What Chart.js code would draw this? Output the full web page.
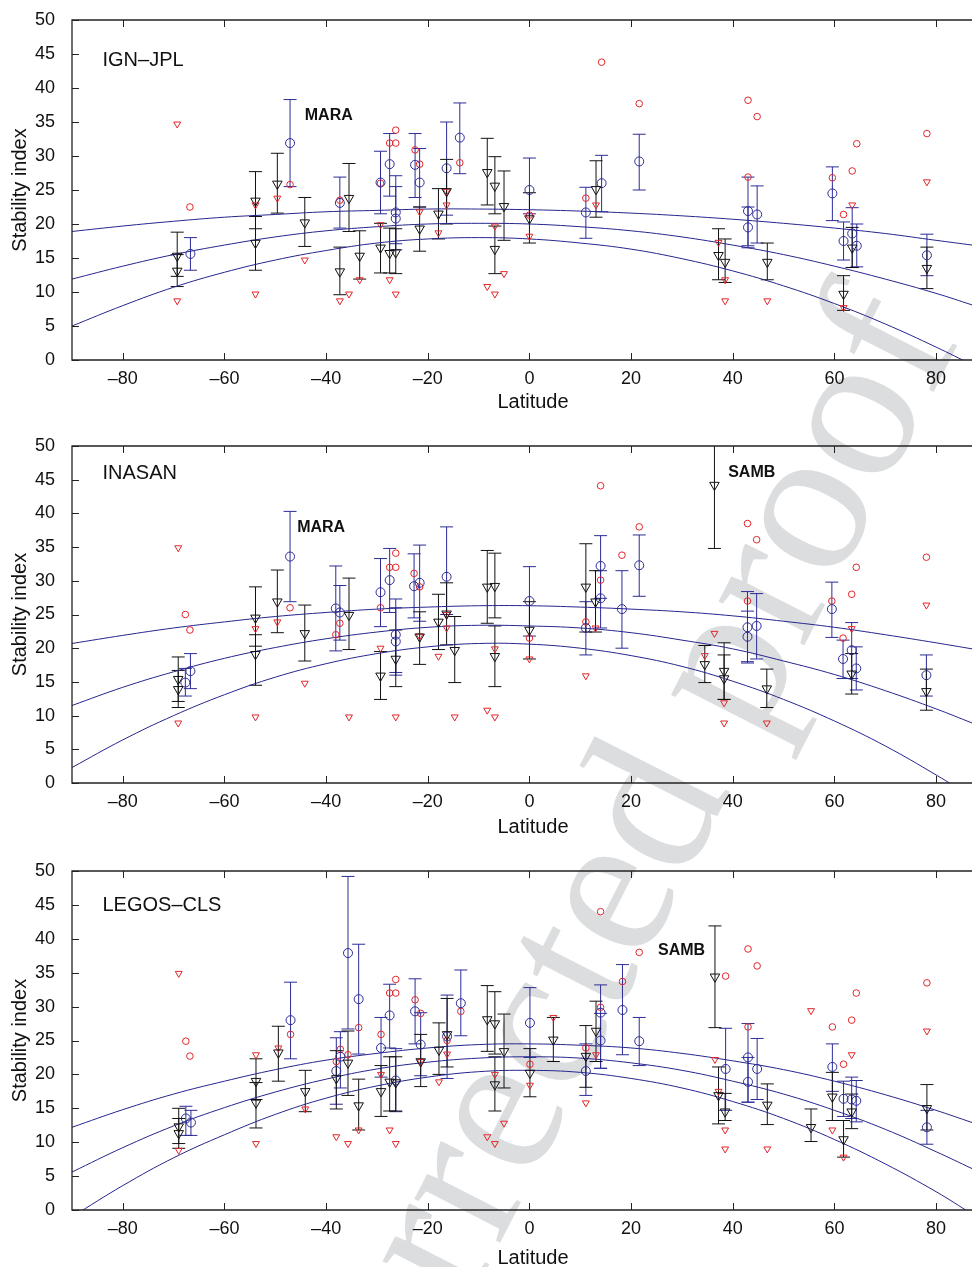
<!DOCTYPE html>
<html>
<head>
<meta charset="utf-8">
<script src="https://cdn.jsdelivr.net/npm/chart.js@4.4.0/dist/chart.umd.min.js"></script>
<style>
body { margin: 0; background: #fff; width: 972px; height: 1267px; overflow: hidden; position: relative; }
.panel { position: absolute; left: 0; width: 994px; height: 425px; z-index: 1; }
#wm { position: absolute; left: 595px; top: 900px; transform: translate(-50%, -50%) rotate(-63deg);
      font: 210px "Liberation Serif", "DejaVu Serif", serif; color: #dcdddf; white-space: nowrap; line-height: 1; z-index: 0; }
</style>
</head>
<body>
<div id="wm">Corrected proof</div>
<div class="panel" style="top:0px"><canvas id="c1"></canvas></div>
<div class="panel" style="top:425px"><canvas id="c2"></canvas></div>
<div class="panel" style="top:850px"><canvas id="c3"></canvas></div>
<script>
// axes (the axes run a little past the cropped right edge of the figure)
const xTicks = [-80, -60, -40, -20, 0, 20, 40, 60, 80];
const yTicks = [0, 5, 10, 15, 20, 25, 30, 35, 40, 45, 50];

const curveLat = [-90, -80, -70, -60, -50, -40, -30, -20, -10, 0, 10, 20, 30, 40, 50, 60, 70, 80, 87.1];

// ---- IGN-JPL ----
const ignFitHi = [18.9, 19.7, 20.4, 21.0, 21.4, 21.8, 22.0, 22.2, 22.2, 22.1, 21.9, 21.6, 21.2, 20.7, 20.1, 19.4, 18.6, 17.6, 16.9];
const ignFitMid = [11.9, 13.8, 15.5, 16.9, 18.1, 19.0, 19.6, 20.0, 20.1, 20.0, 19.6, 19.0, 18.1, 16.9, 15.5, 13.8, 11.9, 9.8, 8.1];
const ignFitLo = [5.0, 8.0, 10.7, 12.9, 14.7, 16.1, 17.2, 17.8, 18.0, 17.8, 17.2, 16.3, 14.9, 13.1, 10.9, 8.3, 5.3, 1.9, -0.7];
const ignRedCircles = [[-66.8,22.5],[-47.1,25.8],[-37.3,23.5],[-29.3,26.0],[-27.5,31.9],[-26.3,33.8],[-26.3,31.9],[-22.5,30.9],[-21.6,28.8],[-13.7,29.0],[0,21.3],[11.1,23.8],[14.2,43.8],[21.6,37.7],[43.0,26.9],[43.0,38.2],[44.8,35.8],[59.6,26.8],[61.8,21.4],[63.5,27.8],[64.4,31.8],[78.2,33.3]];
const ignRedTri = [[-69.3,34.7],[-69.3,8.7],[-53.9,22.8],[-53.9,9.7],[-49.6,23.8],[-44.2,14.7],[-37.3,8.7],[-35.5,9.7],[-33.4,11.8],[-29.3,19.9],[-27.5,11.8],[-26.3,9.7],[-21.6,21.8],[-17.9,18.7],[-16.3,24.8],[-16.3,22.8],[-8.3,10.8],[-6.8,19.7],[-6.8,9.7],[-5.0,12.7],[0,18.2],[13.1,22.8],[37.2,17.3],[38.5,11.8],[38.5,8.7],[46.8,8.7],[61.8,7.7],[63.5,22.8],[78.2,26.2]];
// [lat, value, low, high]
const ignBlue = [[-66.7,15.6,13.2,18.0],[-47.1,31.9,25.5,38.3],[-37.3,23.1,19.4,26.9],[-29.3,26.1,21.5,30.7],[-27.5,28.8,24.1,33.3],[-26.3,21.7,17.1,27.1],[-26.3,20.8,16.2,25.5],[-22.5,28.7,23.9,33.3],[-21.6,26.1,22.5,31.1],[-16.3,28.2,21.3,35.0],[-13.7,32.7,27.4,37.8],[0,25.0,21.5,29.7],[11.1,21.7,17.9,25.4],[14.2,26.0,21.8,30.1],[21.6,29.2,25.0,33.2],[43.0,21.9,16.5,26.9],[43.0,19.5,16.8,22.5],[44.8,21.4,17.2,25.6],[59.6,24.5,20.5,28.4],[61.8,17.5,14.7,20.3],[63.5,18.6,13.6,22.4],[64.4,16.8,13.7,20.0],[78.2,15.4,12.4,18.5]];
const ignBlack = [[-69.3,15.3,12.3,18.8],[-69.3,13.1,10.8,15.5],[-53.9,23.4,19.3,27.7],[-53.9,17.2,13.2,21.1],[-49.6,25.9,21.6,30.4],[-44.2,20.2,16.7,23.9],[-37.3,13.0,9.6,16.6],[-35.5,23.8,18.9,28.9],[-33.4,15.3,11.9,19.0],[-29.3,16.5,12.8,20.1],[-27.5,15.7,12.8,19.4],[-26.3,15.8,12.7,19.3],[-21.6,19.3,16.0,22.5],[-17.9,21.5,17.8,25.2],[-16.3,24.8,20.0,29.5],[-8.3,27.6,22.8,32.6],[-6.8,25.6,21.5,29.9],[-6.8,16.3,12.7,19.7],[-5.0,22.6,17.6,27.8],[0,20.8,17.2,24.6],[13.1,25.1,21.0,29.3],[37.2,15.4,11.8,19.3],[38.5,14.4,11.4,17.8],[46.8,14.4,11.8,17.2],[61.8,9.7,7.3,12.4],[63.5,16.5,13.6,19.5],[78.2,13.5,10.5,16.6]];
const ignText = [['IGN–JPL', -84.0, 44.1, false], ['MARA', -44.2, 36.0, true]];

// ---- INASAN ----
const inaFitHi = [20.7, 21.9, 23.0, 23.9, 24.7, 25.3, 25.8, 26.1, 26.3, 26.3, 26.1, 25.8, 25.4, 24.8, 24.0, 23.1, 22.0, 20.8, 19.9];
const inaFitMid = [11.5, 14.2, 16.5, 18.5, 20.1, 21.4, 22.4, 23.1, 23.4, 23.3, 23.0, 22.3, 21.2, 19.9, 18.1, 16.1, 13.7, 11.0, 8.9];
const inaFitLo = [2.3, 6.4, 10.0, 13.1, 15.7, 17.7, 19.2, 20.2, 20.7, 20.6, 20.0, 18.9, 17.3, 15.1, 12.4, 9.2, 5.5, 1.2, -2.1];
const inaRedCircles = [[-67.7,25.0],[-66.8,22.7],[-47.1,26.0],[-38.1,22.0],[-37.3,23.7],[-29.3,26.0],[-27.5,32.0],[-26.3,34.1],[-26.3,32.0],[-22.7,31.1],[-21.6,29.1],[0,21.5],[11.1,23.9],[14.0,44.1],[14.0,30.1],[18.2,33.8],[21.6,38.0],[42.9,27.0],[42.9,38.5],[44.7,36.1],[59.5,27.0],[61.7,21.5],[63.4,28.0],[64.3,32.0],[78.1,33.5]];
const inaRedTri = [[-69.1,34.9],[-69.1,8.9],[-53.9,22.9],[-53.9,9.8],[-49.6,23.9],[-44.2,14.8],[-35.5,9.8],[-29.3,20.0],[-26.3,9.8],[-21.6,21.8],[-17.9,18.8],[-16.3,23.0],[-16.3,25.0],[-14.7,9.8],[-8.3,10.8],[-6.8,19.9],[-6.8,9.8],[0,18.4],[11.1,15.9],[13.0,23.0],[34.5,18.9],[36.4,22.2],[38.3,11.9],[38.3,8.9],[46.7,8.9],[63.4,22.9],[78.1,26.4]];
const inaBlue = [[-67.7,14.9,12.9,17.0],[-66.7,16.6,14.0,19.2],[-47.1,33.6,26.9,40.3],[-38.1,25.9,19.6,32.2],[-37.3,25.3,21.2,29.3],[-29.3,28.3,23.2,33.3],[-27.5,30.1,25.3,34.8],[-26.3,22.0,16.4,27.3],[-26.3,21.0,16.0,26.0],[-22.7,29.2,24.5,34.0],[-21.6,29.7,24.0,35.3],[-16.3,30.6,25.0,38.0],[0,27.0,21.8,32.1],[11.1,23.0,19.0,26.9],[14.0,32.2,27.4,36.7],[14.0,27.4,23.0,31.5],[18.2,25.8,20.0,31.5],[21.6,32.3,27.7,36.8],[42.9,23.1,17.8,28.4],[42.9,21.7,18.0,25.5],[44.7,23.3,18.4,28.1],[59.5,25.8,21.6,29.8],[61.7,18.4,15.5,21.2],[63.4,19.7,15.5,23.8],[64.3,17.0,13.8,20.2],[78.1,16.0,12.9,19.0]];
const inaBlack = [[-69.1,15.4,12.1,18.7],[-69.1,13.9,11.2,16.7],[-53.9,24.5,20.3,29.1],[-53.9,19.1,14.5,22.0],[-49.6,26.9,22.3,31.6],[-44.2,22.2,18.1,26.4],[-35.5,24.9,19.8,30.4],[-29.3,15.9,12.4,19.5],[-26.3,18.4,14.3,22.7],[-21.6,21.7,17.6,25.4],[-17.9,23.9,19.8,28.0],[-16.3,25.1,20.5,29.7],[-14.7,19.7,14.9,24.7],[-8.3,29.1,23.7,34.5],[-6.8,29.2,24.5,34.1],[-6.8,18.8,14.3,23.3],[0,22.7,18.4,26.9],[11.1,29.1,22.4,35.5],[13.0,26.9,22.4,31.5],[34.5,17.6,14.9,20.4],[36.4,44.2,34.8,53.0],[38.3,16.6,12.4,20.8],[38.3,15.5,12.4,19.0],[46.7,14.0,11.2,16.9],[63.4,16.2,13.2,19.2],[78.1,13.6,10.8,16.9]];
const inaText = [['INASAN', -84.0, 45.9, false], ['MARA', -45.7, 37.9, true], ['SAMB', 39.1, 46.0, true]];

// ---- LEGOS-CLS ----
const legFitHi = [12.2, 14.8, 17.1, 19.0, 20.7, 22.1, 23.1, 23.9, 24.4, 24.5, 24.3, 23.9, 23.1, 22.0, 20.7, 19.0, 17.0, 14.7, 12.9];
const legFitMid = [5.6, 9.2, 12.4, 15.1, 17.4, 19.3, 20.8, 21.8, 22.4, 22.6, 22.4, 21.7, 20.6, 19.0, 17.1, 14.7, 11.9, 8.6, 6.1];
const legFitLo = [-1.0, 3.6, 7.7, 11.1, 14.1, 16.5, 18.3, 19.6, 20.4, 20.6, 20.3, 19.4, 18.0, 16.0, 13.5, 10.4, 6.8, 2.7, -0.6];
const legRedCircles = [[-67.6,24.9],[-66.8,22.7],[-47.0,25.9],[-38.0,21.9],[-37.2,23.7],[-35.7,22.9],[-33.6,26.9],[-29.2,25.9],[-27.5,32.0],[-26.3,34.0],[-26.3,32.0],[-22.5,31.0],[-21.4,29.0],[-16.2,25.0],[-13.5,29.3],[0.1,21.5],[11.1,23.9],[14.0,44.0],[14.0,29.9],[18.3,33.7],[21.6,38.0],[38.6,34.5],[43.0,27.0],[43.0,38.5],[44.8,36.0],[59.6,27.0],[61.8,21.5],[63.4,28.0],[64.3,32.0],[78.2,33.5]];
const legRedTri = [[-69.0,34.9],[-69.0,8.8],[-53.8,22.9],[-53.8,9.8],[-49.4,23.9],[-44.1,14.9],[-38.0,10.8],[-35.7,9.8],[-33.6,11.8],[-29.2,20.0],[-27.5,11.8],[-26.3,9.8],[-21.4,21.9],[-17.8,18.9],[-16.2,23.0],[-8.3,10.8],[-6.8,20.0],[-6.8,9.8],[-5.0,12.8],[0.1,18.4],[4.7,28.4],[11.1,15.8],[13.1,22.9],[36.5,22.2],[37.2,17.5],[38.5,11.8],[38.5,9.0],[46.8,9.0],[55.4,29.4],[59.6,11.8],[61.8,7.8],[63.4,22.9],[78.2,26.4]];
const legBlue = [[-67.6,13.5,11.0,15.3],[-66.6,12.9,11.0,14.7],[-47.0,28.0,22.3,33.6],[-38.0,20.5,15.6,25.4],[-37.2,22.6,18.0,26.3],[-35.7,37.9,26.7,49.2],[-33.6,31.1,23.0,39.2],[-29.2,23.9,19.6,28.4],[-27.5,28.7,23.9,33.3],[-26.3,19.1,14.5,23.8],[-22.5,29.3,24.5,34.1],[-21.4,24.4,19.8,29.1],[-16.2,25.6,19.4,31.7],[-13.5,30.5,25.7,35.4],[0.1,27.6,22.5,32.8],[11.1,20.5,16.9,24.5],[14.0,29.1,20.9,33.2],[14.0,25.0,20.9,29.0],[18.3,29.5,22.9,36.2],[21.6,24.9,21.3,28.4],[38.6,20.8,14.7,26.8],[43.0,22.5,15.9,27.5],[43.0,18.9,15.9,22.5],[44.8,20.8,16.3,25.3],[59.6,21.1,17.5,24.5],[61.8,16.4,13.8,19.0],[63.4,16.3,13.5,19.6],[64.3,16.1,13.0,19.1],[78.2,12.2,9.7,14.7]];
const legBlack = [[-69.0,12.3,9.8,15.0],[-69.0,11.3,9.1,13.5],[-53.8,19.0,16.3,22.3],[-53.8,15.8,12.1,18.8],[-49.4,23.2,19.0,27.1],[-44.1,17.5,14.5,20.6],[-38.0,19.4,14.9,23.5],[-35.7,21.7,16.9,26.4],[-33.6,15.4,11.8,19.3],[-29.2,17.5,13.8,21.3],[-27.5,18.9,14.6,22.6],[-26.3,18.8,14.6,22.6],[-21.4,21.9,18.2,25.9],[-17.8,23.6,20.0,27.6],[-16.2,25.9,21.1,31.2],[-8.3,28.1,23.4,33.1],[-6.8,27.5,23.0,32.2],[-6.8,18.5,14.6,22.6],[-5.0,23.4,18.0,28.9],[0.1,20.2,16.7,23.8],[4.7,25.1,21.9,28.4],[11.1,22.7,18.1,27.2],[13.1,26.4,21.9,30.8],[36.5,34.4,26.9,41.9],[37.2,16.9,12.7,21.1],[38.5,14.5,13.2,17.2],[46.8,15.5,12.6,18.6],[55.4,12.2,10.1,14.9],[59.6,16.7,13.2,20.3],[61.8,10.4,7.8,13.2],[63.4,14.5,12.0,17.1],[78.2,15.0,11.8,18.5]];
const legText = [['LEGOS–CLS', -84.0, 44.9, false], ['SAMB', 25.3, 38.3, true]];

const RED = '#e2262a', BLUE = '#2c2c98', NAVY = '#25258c', BLACK = '#111';
Chart.defaults.font.family = '"Liberation Sans", Arial, Helvetica, sans-serif';
Chart.defaults.color = '#111';

// error bars drawn under the markers
const errorBars = {
    id: 'errorBars',
    beforeDatasetsDraw(chart) {
        const { ctx, chartArea: a, scales } = chart;
        ctx.save();
        ctx.beginPath();
        ctx.rect(a.left, a.top, a.right - a.left, a.bottom - a.top);
        ctx.clip();
        chart.data.datasets.forEach((ds) => {
            if (!ds.errColor) return;
            ctx.strokeStyle = ds.errColor;
            ctx.lineWidth = 1;
            ds.data.forEach((p) => {
                const px = scales.x.getPixelForValue(p.x);
                const lo = scales.y.getPixelForValue(p.lo);
                const hi = scales.y.getPixelForValue(p.hi);
                ctx.beginPath();
                ctx.moveTo(px, lo); ctx.lineTo(px, hi);
                ctx.moveTo(px - 6.5, lo); ctx.lineTo(px + 6.5, lo);
                ctx.moveTo(px - 6.5, hi); ctx.lineTo(px + 6.5, hi);
                ctx.stroke();
            });
        });
        ctx.restore();
    },
};

// box with inward ticks, matlab style
const frame = {
    id: 'frame',
    afterDatasetsDraw(chart) {
        const { ctx, chartArea: a, scales } = chart;
        ctx.save();
        ctx.strokeStyle = '#222';
        ctx.lineWidth = 1.3;
        ctx.beginPath();
        ctx.moveTo(a.right, a.top); ctx.lineTo(a.left, a.top);
        ctx.lineTo(a.left, a.bottom); ctx.lineTo(a.right, a.bottom);
        ctx.stroke();
        ctx.lineWidth = 1;
        ctx.beginPath();
        xTicks.forEach((v) => {
            const px = Math.round(scales.x.getPixelForValue(v)) + 0.5;
            ctx.moveTo(px, a.bottom); ctx.lineTo(px, a.bottom - 7);
            ctx.moveTo(px, a.top); ctx.lineTo(px, a.top + 7);
        });
        yTicks.forEach((v) => {
            const py = Math.round(scales.y.getPixelForValue(v)) + 0.5;
            ctx.moveTo(a.left, py); ctx.lineTo(a.left + 7, py);
        });
        ctx.stroke();
        ctx.restore();
    },
};

// panel name and station labels
const panelText = {
    id: 'panelText',
    afterDraw(chart, args, opts) {
        const { ctx, scales } = chart;
        ctx.save();
        ctx.fillStyle = '#111';
        ctx.textBaseline = 'middle';
        (opts.items || []).forEach((t) => {
            ctx.font = (t[3] ? 'bold 16px ' : '20px ') + Chart.defaults.font.family;
            ctx.fillText(t[0], scales.x.getPixelForValue(t[1]), scales.y.getPixelForValue(t[2]));
        });
        ctx.restore();
    },
};

function pts(list) {
    return list.map((p) => ({ x: p[0], y: p[1], lo: p[2], hi: p[3] }));
}
function curve(vals) {
    return vals.map((v, i) => ({ x: curveLat[i], y: v }));
}
function fitLine(vals) {
    return { type: 'line', data: curve(vals), borderColor: NAVY, borderWidth: 1, pointRadius: 0, tension: 0.4, fill: false, order: 5 };
}
function noPad(s) {
    s.paddingLeft = 0; s.paddingRight = 0; s.paddingTop = 0; s.paddingBottom = 0;
}

function drawPanel(id, p) {
    new Chart(document.getElementById(id), {
        type: 'scatter',
        data: {
            datasets: [
                fitLine(p.fitHi),
                fitLine(p.fitMid),
                fitLine(p.fitLo),
                { data: pts(p.redCircles), pointStyle: 'circle', pointRadius: 3.3, borderColor: RED, backgroundColor: 'rgba(0,0,0,0)', borderWidth: 1, order: 4 },
                { data: pts(p.redTri), pointStyle: 'triangle', rotation: 180, pointRadius: 4, borderColor: RED, backgroundColor: 'rgba(0,0,0,0)', borderWidth: 1, order: 3 },
                { data: pts(p.blue), pointStyle: 'circle', pointRadius: 4.5, borderColor: BLUE, backgroundColor: 'rgba(0,0,0,0)', borderWidth: 1, errColor: BLUE, order: 2 },
                { data: pts(p.black), pointStyle: 'triangle', rotation: 180, pointRadius: 5.5, borderColor: BLACK, backgroundColor: 'rgba(0,0,0,0)', borderWidth: 1, errColor: BLACK, order: 1 },
            ],
        },
        options: {
            responsive: true,
            maintainAspectRatio: false,
            animation: false,
            events: [],
            layout: { autoPadding: false, padding: { top: p.top, right: 0, bottom: 0, left: 0 } },
            plugins: { legend: { display: false }, tooltip: { enabled: false }, panelText: { items: p.text } },
            scales: {
                x: {
                    type: 'linear', min: -90, max: 91.4,
                    grid: { display: false }, border: { display: false },
                    afterBuildTicks: (s) => { s.ticks = xTicks.map((v) => ({ value: v })); },
                    afterFit: (s) => { s.height = p.xH; noPad(s); },
                    ticks: { font: { size: 18 }, color: '#111', padding: 0, maxRotation: 0, autoSkip: false,
                        callback: (v) => (v < 0 ? '\u2013' + Math.abs(v) : '' + v) },
                    title: { display: true, text: 'Latitude', font: { size: 20 }, color: '#111', padding: { top: 0, bottom: p.latPad } },
                },
                y: {
                    type: 'linear', min: 0, max: 50,
                    grid: { display: false }, border: { display: false },
                    afterBuildTicks: (s) => { s.ticks = yTicks.map((v) => ({ value: v })); },
                    afterFit: (s) => { s.width = 72; noPad(s); },
                    ticks: { font: { size: 18 }, color: '#111', padding: 9 },
                    title: { display: true, text: 'Stability index', font: { size: 20 }, color: '#111', padding: { top: 8, bottom: 0 } },
                },
            },
        },
        plugins: [errorBars, frame, panelText],
    });
}

drawPanel('c1', { fitHi: ignFitHi, fitMid: ignFitMid, fitLo: ignFitLo, redCircles: ignRedCircles, redTri: ignRedTri, blue: ignBlue, black: ignBlack, text: ignText, top: 20, xH: 65, latPad: 11 });
drawPanel('c2', { fitHi: inaFitHi, fitMid: inaFitMid, fitLo: inaFitLo, redCircles: inaRedCircles, redTri: inaRedTri, blue: inaBlue, black: inaBlack, text: inaText, top: 21, xH: 67, latPad: 11 });
drawPanel('c3', { fitHi: legFitHi, fitMid: legFitMid, fitLo: legFitLo, redCircles: legRedCircles, redTri: legRedTri, blue: legBlue, black: legBlack, text: legText, top: 21, xH: 65, latPad: 5 });
</script>
</body>
</html>
